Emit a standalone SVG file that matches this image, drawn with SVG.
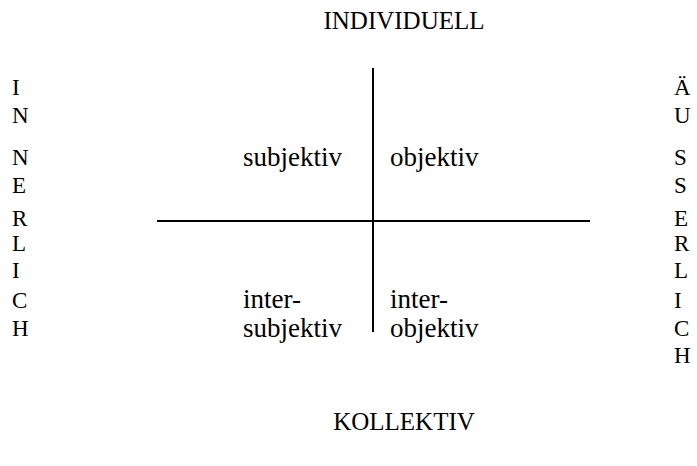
<svg xmlns="http://www.w3.org/2000/svg" width="697" height="466" viewBox="0 0 697 466">
<style>
text{font-family:"Liberation Serif","Times New Roman",serif;fill:#000}
.h{font-size:25px;text-anchor:middle}
.s{font-size:23px}
.q{font-size:27px}
line{stroke:#000;stroke-width:2}
</style>
<rect width="697" height="466" fill="#fff"/>
<g id="connectors">
<line x1="373" y1="68" x2="373" y2="332"/>
<line x1="157" y1="221" x2="590" y2="221"/>
</g>
<g id="top"><text class="h" x="404" y="29">INDIVIDUELL</text></g>
<g id="bottom"><text class="h" x="404" y="430">KOLLEKTIV</text></g>
<g id="left">
<text class="s" x="12" y="95">I</text>
<text class="s" x="12" y="123">N</text>
<text class="s" x="12" y="165">N</text>
<text class="s" x="12" y="193">E</text>
<text class="s" x="12" y="226">R</text>
<text class="s" x="12" y="251">L</text>
<text class="s" x="12" y="278">I</text>
<text class="s" x="12" y="308">C</text>
<text class="s" x="12" y="336">H</text>
</g>
<g id="right">
<text class="s" x="674" y="95">Ä</text>
<text class="s" x="674" y="123">U</text>
<text class="s" x="674" y="165">S</text>
<text class="s" x="674" y="193">S</text>
<text class="s" x="674" y="226">E</text>
<text class="s" x="674" y="251">R</text>
<text class="s" x="674" y="278">L</text>
<text class="s" x="674" y="308">I</text>
<text class="s" x="674" y="336">C</text>
<text class="s" x="674" y="363">H</text>
</g>
<g id="q1"><text class="q" x="243" y="166">subjektiv</text></g>
<g id="q2"><text class="q" x="390" y="166">objektiv</text></g>
<g id="q3"><text class="q" x="243" y="308">inter-</text><text class="q" x="243" y="337">subjektiv</text></g>
<g id="q4"><text class="q" x="390" y="308">inter-</text><text class="q" x="390" y="337">objektiv</text></g>
</svg>
